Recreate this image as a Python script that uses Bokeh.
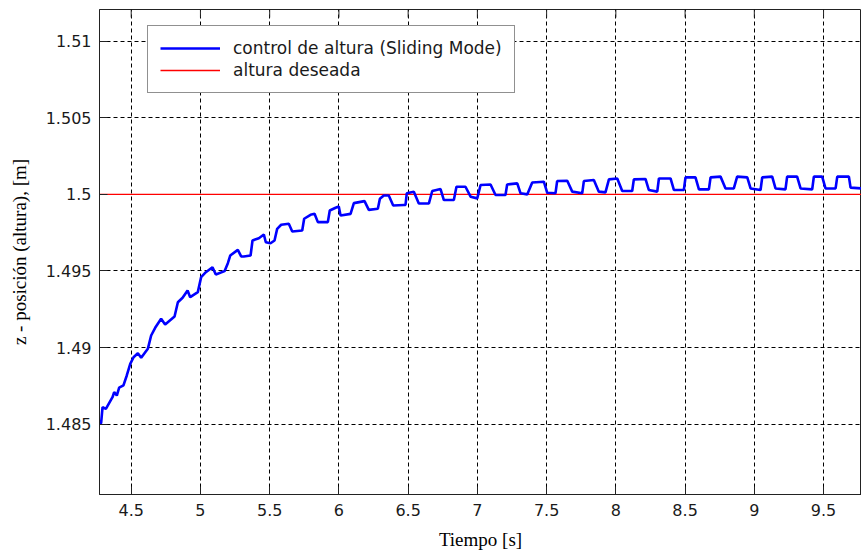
import math
from bokeh.plotting import figure
from bokeh.models import FixedTicker, Legend, LegendItem, Range1d
from bokeh.embed import file_html
from bokeh.resources import INLINE

# ---- data ----
t = [4.278, 4.283, 4.293, 4.317, 4.365, 4.377, 4.396, 4.413, 4.444, 4.468, 4.493, 4.517,
     4.548, 4.572, 4.620, 4.644, 4.673, 4.716, 4.745, 4.813, 4.837, 4.871, 4.907, 4.926,
     4.981, 5.005, 5.039, 5.087, 5.111, 5.174, 5.198, 5.215, 5.270, 5.294, 5.313, 5.362,
     5.376, 5.422, 5.458, 5.472, 5.506, 5.535, 5.554, 5.583, 5.638, 5.663, 5.735, 5.749,
     5.795, 5.824, 5.848, 5.920, 5.934, 5.976, 5.999, 6.012, 6.084, 6.108, 6.185, 6.216,
     6.281, 6.296, 6.324, 6.360, 6.392, 6.469,
     6.481, 6.490, 6.541, 6.577, 6.650,
     6.674, 6.734, 6.758, 6.830,
     6.849, 6.914, 6.951, 6.999,
     7.023, 7.095, 7.131, 7.203,
     7.215, 7.288, 7.312, 7.360,
     7.396, 7.480, 7.504, 7.564,
     7.576, 7.649, 7.685, 7.757,
     7.769, 7.841, 7.877, 7.925,
     7.950, 8.010, 8.046, 8.118,
     8.130, 8.214, 8.238, 8.299,
     8.311, 8.395, 8.419, 8.491,
     8.503, 8.575, 8.600, 8.672,
     8.684, 8.756, 8.792, 8.852,
     8.876, 8.949, 8.973, 9.045,
     9.057, 9.129, 9.153, 9.225,
     9.237, 9.309, 9.334, 9.418,
     9.430, 9.490, 9.514, 9.587,
     9.599, 9.683, 9.695, 9.775]
z = [1.4850, 1.4851, 1.48611, 1.48600, 1.48676, 1.48709, 1.48687, 1.48738, 1.48753, 1.48818, 1.48894, 1.48937,
     1.48963, 1.48933, 1.48992, 1.49079, 1.49129, 1.49188, 1.49151, 1.49203, 1.49296, 1.49325, 1.49373, 1.49329,
     1.49362, 1.49460, 1.49492, 1.49525, 1.49477, 1.49499, 1.49551, 1.49601, 1.49638, 1.49595, 1.49595, 1.49601,
     1.49699, 1.49714, 1.49738, 1.49688, 1.49681, 1.49699, 1.49775, 1.49802, 1.49808, 1.49758, 1.49764, 1.49841,
     1.49867, 1.49873, 1.49819, 1.49819, 1.49895, 1.49913, 1.49921, 1.49862, 1.49873, 1.49943, 1.49956, 1.49899,
     1.49906, 1.49971, 1.49993, 1.49993, 1.49928, 1.49931,
     1.49931, 1.50007, 1.50018, 1.49941, 1.49941,
     1.50022, 1.50035, 1.49963, 1.49963,
     1.50050, 1.50050, 1.49985, 1.49974,
     1.50061, 1.50065, 1.49996, 1.49996,
     1.50065, 1.50072, 1.50007, 1.50000,
     1.50078, 1.50083, 1.50011, 1.50007,
     1.50087, 1.50089, 1.50018, 1.50007,
     1.50087, 1.50094, 1.50018, 1.50013,
     1.50098, 1.50104, 1.50022, 1.50022,
     1.50098, 1.50101, 1.50029, 1.50018,
     1.50104, 1.50104, 1.50029, 1.50029,
     1.50111, 1.50111, 1.50033, 1.50033,
     1.50111, 1.50116, 1.50039, 1.50039,
     1.50116, 1.50111, 1.50039, 1.50029,
     1.50111, 1.50116, 1.50039, 1.50033,
     1.50116, 1.50116, 1.50039, 1.50033,
     1.50116, 1.50116, 1.50039, 1.50039,
     1.50116, 1.50116, 1.50044, 1.50039]
ref_t = [4.0, 10.0]
ref_z = [1.5, 1.5]

x_ticks = [4.5, 5, 5.5, 6, 6.5, 7, 7.5, 8, 8.5, 9, 9.5]
x_tick_labels = ["4.5", "5", "5.5", "6", "6.5", "7", "7.5", "8", "8.5", "9", "9.5"]
y_ticks = [1.485, 1.49, 1.495, 1.5, 1.505, 1.51]
y_tick_labels = ["1.485", "1.49", "1.495", "1.5", "1.505", "1.51"]

x_range = (4.271, 9.774)
y_range = (1.48041, 1.51207)

series_label = "control de altura (Sliding Mode)"
ref_label = "altura deseada"

TICK_FONT = "DejaVu Sans"
LABEL_FONT = "Liberation Serif"
TEXT_COLOR = "#1a1a1a"
AX_COLOR = "#222222"

p = figure(width=861, height=553, output_backend="svg", toolbar_location=None,
           x_range=Range1d(*x_range), y_range=Range1d(*y_range),
           min_border_left=99, min_border_right=0, min_border_top=9, min_border_bottom=59,
           x_axis_label="Tiempo [s]", y_axis_label="z - posición (altura), [m]")
p.background_fill_color = "white"
p.border_fill_color = "white"
p.outline_line_color = AX_COLOR
p.outline_line_width = 1

for ax, ticks, labels in ((p.xaxis[0], x_ticks, x_tick_labels), (p.yaxis[0], y_ticks, y_tick_labels)):
    ax.ticker = FixedTicker(ticks=ticks)
    ax.major_label_overrides = {tv: lb for tv, lb in zip(ticks, labels)}
    ax.major_tick_in = 8
    ax.major_tick_out = 0
    ax.minor_tick_line_color = None
    ax.major_tick_line_color = AX_COLOR
    ax.axis_line_color = AX_COLOR
    ax.major_label_text_font = TICK_FONT
    ax.major_label_text_font_size = "16px"
    ax.major_label_text_color = TEXT_COLOR
    ax.axis_label_text_font = LABEL_FONT
    ax.axis_label_text_font_size = "19px"
    ax.axis_label_text_font_style = "normal"
    ax.axis_label_text_color = "black"

p.xaxis[0].major_label_standoff = 9
p.xaxis[0].axis_label_standoff = 10
p.yaxis[0].major_label_standoff = 8
p.yaxis[0].axis_label_standoff = 13

for g in (p.xgrid[0], p.ygrid[0]):
    g.grid_line_color = "black"
    g.grid_line_dash = "4 3"
    g.grid_line_width = 1
p.xgrid[0].ticker = FixedTicker(ticks=x_ticks)
p.ygrid[0].ticker = FixedTicker(ticks=y_ticks)

# inward tick marks along the top edge of the frame
p.ray(x=x_ticks, y=[y_range[1]] * len(x_ticks), length=8, length_units="screen",
      angle=-math.pi / 2, line_color=AX_COLOR, line_width=1)

r_ref = p.line(ref_t, ref_z, line_color="#ff0000", line_width=1.3)
r_sm = p.line(t, z, line_color="#0000ff", line_width=2.6)

legend = Legend(items=[LegendItem(label=series_label, renderers=[r_sm]),
                       LegendItem(label=ref_label, renderers=[r_ref])],
                location=(48, 401))
legend.label_text_font = TICK_FONT
legend.label_text_font_size = "17px"
legend.label_text_color = TEXT_COLOR
legend.glyph_width = 60
legend.glyph_height = 20
legend.label_height = 20
legend.label_standoff = 13
legend.spacing = 2
legend.padding = 12
legend.margin = 0
legend.border_line_color = AX_COLOR
legend.border_line_width = 1
legend.background_fill_alpha = 1
p.add_layout(legend, "center")

open("out.html", "w").write(file_html(p, INLINE))
